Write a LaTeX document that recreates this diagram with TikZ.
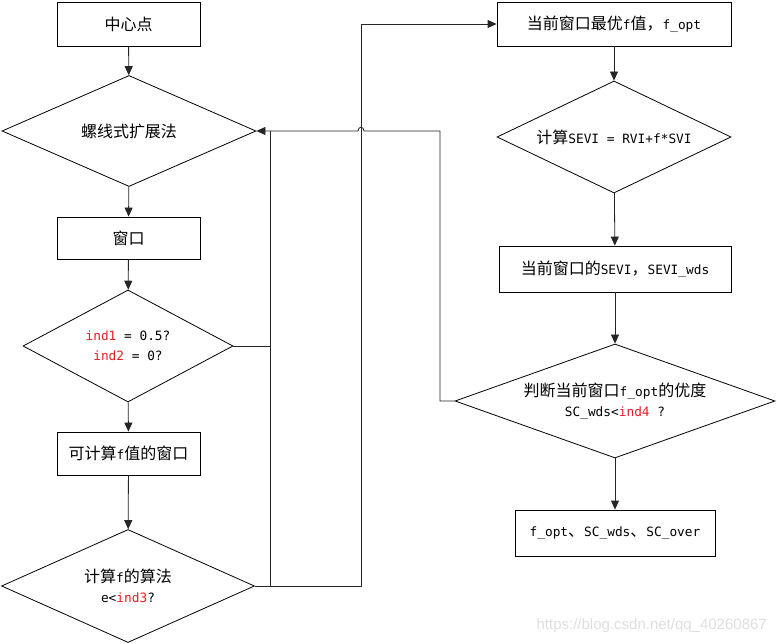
\documentclass[tikz,border=0pt]{standalone}
\usepackage{fontspec}
\setmainfont{DejaVu Sans Mono}[Scale=0.8]
\newfontfamily\zhf{Noto Sans CJK SC}
\newfontfamily\wmf{Liberation Sans}
\usetikzlibrary{shapes.geometric,arrows.meta,calc}
\definecolor{indred}{RGB}{228,28,36}
\newcommand\zh[1]{{\zhf #1}}
\newcommand\rd[1]{\textcolor{indred}{#1}}
\tikzset{
  box/.style={draw=black, line width=0.8pt, rectangle, inner sep=0pt, align=center,
    font=\fontsize{16}{20}\selectfont},
  dia/.style={draw=black, line width=0.8pt, diamond, inner sep=0pt, align=center,
    font=\fontsize{16}{20}\selectfont},
  conn/.style={draw=black!85, line width=0.8pt},
  arr/.style={conn, -{Triangle[length=9pt,width=8pt]}}
}
\begin{document}
\begin{tikzpicture}[x=1pt,y=-1pt]
\useasboundingbox (0,0) rectangle (777,644);
% left column
\node[box, minimum width=143pt, minimum height=44pt] (c1) at (128.5,24) {\zh{中心点}};
\node[dia, aspect=2.29, minimum width=254pt, minimum height=111pt] (d1) at (129,131) {\zh{螺线式扩展法}};
\node[box, minimum width=143pt, minimum height=42pt] (b2) at (128.5,238) {\zh{窗口}};
\node[dia, aspect=1.875, minimum width=210pt, minimum height=112pt] (d2) at (128,346) {\rd{ind1} = 0.5?\\\rd{ind2} = 0?};
\node[box, minimum width=143pt, minimum height=43pt] (b3) at (128.5,453.5) {\zh{可计算}f\zh{值的窗口}};
\node[dia, aspect=2.24, minimum width=253pt, minimum height=113pt] (d3) at (128,586) {\zh{计算}f\zh{的算法}\\e<\rd{ind3}?};
% right column
\node[box, minimum width=234pt, minimum height=44pt] (r1) at (614,24) {\zh{当前窗口最优}f\zh{值，}f\_opt};
\node[dia, aspect=2.09, minimum width=234pt, minimum height=112pt] (rd1) at (614,137) {\zh{计算}SEVI = RVI+f*SVI};
\node[box, minimum width=232pt, minimum height=46pt] (r2) at (615,269) {\zh{当前窗口的}SEVI\zh{，}SEVI\_wds};
\node[dia, aspect=2.8, minimum width=320pt, minimum height=114pt] (rd2) at (615,401) {\zh{判断当前窗口}f\_opt\zh{的优度}\\SC\_wds<\rd{ind4} ?};
\node[box, minimum width=200pt, minimum height=46pt] (r3) at (615,533) {f\_opt\zh{、}SC\_wds\zh{、}SC\_over};
% straight arrows
\draw[arr] (c1) -- (d1);
\draw[arr] (d1) -- (b2);
\draw[arr] (b2) -- (d2);
\draw[arr] (d2) -- (b3);
\draw[arr] (b3) -- (d3);
\draw[arr] (r1) -- (rd1);
\draw[arr] (rd1) -- (r2);
\draw[arr] (r2) -- (rd2);
\draw[arr] (rd2) -- (r3);
% loop connectors
\coordinate (xa) at (270,131);
\coordinate (xb) at (361,131);
\coordinate (xc) at (440,131);
\coordinate (hr) at (364,131);
\coordinate (hl) at (358,131);
\draw[conn] (xa) -- (xa |- d3.east);
\draw[conn] (d2.east) -- (d2.east -| xa);
\draw[arr] (d3.east) -- (d3.east -| xb) -- (xb |- r1.west) -- (r1.west);
\draw[arr] (rd2.west) -- (rd2.west -| xc) -- (xc) -- (hr) .. controls (364,126) and (358,126) .. (hl) -- (d1.east);
% watermark
\node[text=black!13, font=\wmf\fontsize{15}{18}\selectfont, anchor=east, inner sep=0pt] (wm) at (767,626) {https://blog.csdn.net/qq\_40260867};
\end{tikzpicture}
\end{document}
